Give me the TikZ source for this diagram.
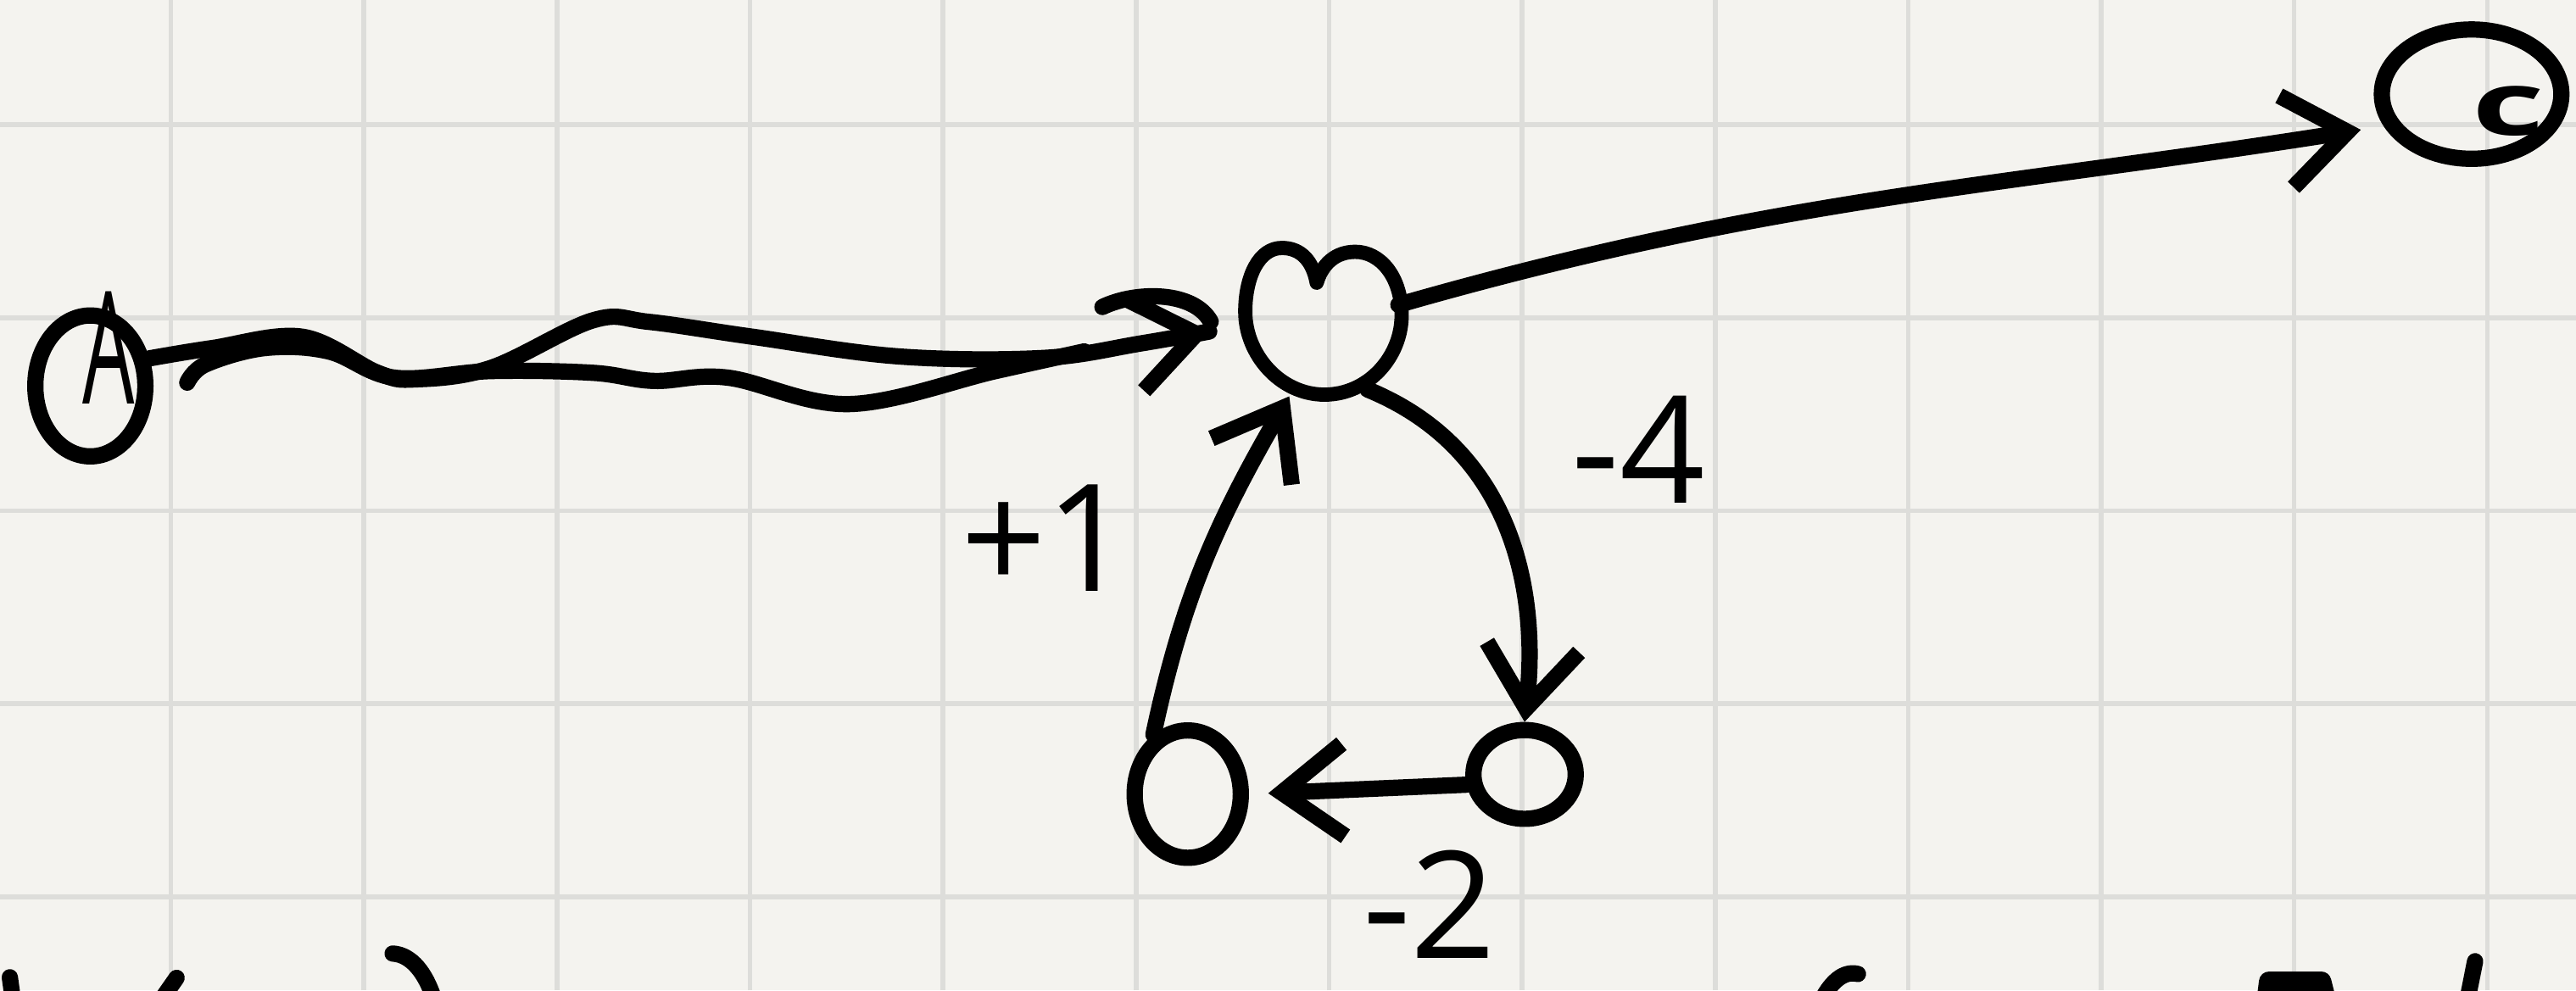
\documentclass[tikz,border=0pt]{standalone}
\usepackage{fontspec}
\setmainfont{Open Sans}
\usepackage{graphicx}
\usepackage{tikz}
\usetikzlibrary{arrows.meta,shapes.geometric}
\definecolor{paper}{HTML}{F4F3EF}
\definecolor{gridline}{HTML}{DDDDDA}

\begin{document}
\begin{tikzpicture}[
  ink/.style={line width=2.4pt,line cap=round,line join=round},
  vx/.style={ellipse,draw,ink,inner sep=0pt},
  ar/.style={ink,-{Straight Barb[length=3.2mm,width=4.8mm]}},
  wt/.style={font=\fontsize{22}{22}\selectfont,inner sep=0pt}]

\useasboundingbox (-0.885,-0.485) rectangle (12.46,4.647);
\clip (-0.885,-0.485) rectangle (12.46,4.647);
\fill[paper] (-0.885,-0.485) rectangle (12.46,4.647);
\draw[gridline,line width=0.7pt] (-0.885,-0.485) grid (12.46,4.647);

% vertices
\node[vx,minimum width=.57cm,minimum height=.73cm] (A) at (-0.417,2.647) {};
\node[wt] (Atxt) at (-0.323,2.843) {\scalebox{.55}[1.05]{A}};
\node[circle,inner sep=0pt,minimum size=.8cm] (M) at (5.966,2.962) {};
\node[vx,minimum width=.93cm,minimum height=.67cm] (C) at (11.919,4.159) {};
\node[wt,font=\fontsize{13}{13}\selectfont\bfseries] (Ctxt) at (12.11,4.07) {\scalebox{1.6}[1]{c}};
\node[vx,minimum width=.55cm,minimum height=.66cm] (BL) at (5.268,0.532) {};
\node[vx,minimum width=.53cm,minimum height=.46cm] (BR) at (7.013,0.634) {};

% heart shaped middle vertex
\begin{scope}[shift={(M.center)}]
\draw[ink,line width=2.1pt] (-0.03,0.22) .. controls (-0.05,0.33) and (-0.11,0.40) .. (-0.21,0.40)
  .. controls (-0.33,0.40) and (-0.40,0.25) .. (-0.40,0.07)
  .. controls (-0.40,-0.15) and (-0.22,-0.36) .. (0.01,-0.36)
  .. controls (0.24,-0.36) and (0.41,-0.16) .. (0.41,0.05)
  .. controls (0.41,0.25) and (0.30,0.38) .. (0.17,0.38)
  .. controls (0.07,0.38) and (0.0,0.32) .. (-0.03,0.22);
\end{scope}

% edges
\draw[ar,shorten >=1.8mm] plot[smooth,tension=.6] coordinates {(A.25) (0.213,2.843) (0.681,2.902) (1.072,2.715) (1.268,2.681) (1.66,2.741) (2.187,2.987) (2.477,2.979) (3.013,2.902) (3.77,2.8) (4.519,2.792) (5.03,2.868) (M.west)};
\draw[ink] plot[smooth,tension=.6] coordinates {(0.085,2.664) (0.179,2.758) (0.485,2.843) (0.817,2.826) (1.158,2.69) (1.66,2.724) (2.187,2.715) (2.502,2.673) (2.885,2.69) (3.515,2.553) (4.272,2.724) (4.732,2.826)};
\draw[ink] (4.826,3.056) .. controls (5.0,3.14) and (5.3,3.14) .. (5.387,2.98);
\draw[ar,shorten >=1.2mm] (M.15) to[out=16,in=189] (C.200);
\draw[ar] (M.305) .. controls (7.0,2.3) and (7.08,1.5) .. (BR.north);
\draw[ar,shorten >=1mm] (BR.190) -- (BL.east);
\draw[ar] (BL.120) to[out=78,in=240] (M.245);

% weights
\node[wt] (w1) at (4.535,1.858) {+1};
\node[wt] (w4) at (7.602,2.319) {-4};
\node[wt] (w2) at (6.52,-0.04) {-2};

% cut off writing along the bottom edge
\draw[ink] (-0.834,-0.417) -- (-0.82,-0.52);
\draw[ink] (0.03,-0.42) -- (-0.04,-0.52);
\draw[ink] (1.149,-0.294) .. controls (1.25,-0.3) and (1.32,-0.4) .. (1.36,-0.52);
\draw[ink] (8.74,-0.40) .. controls (8.66,-0.38) and (8.6,-0.45) .. (8.56,-0.52);
\draw[ink,line width=3pt] (10.86,-0.52) -- (10.87,-0.44) -- (11.14,-0.44) -- (11.16,-0.52);
\draw[ink] (11.937,-0.334) -- (11.9,-0.52);
\end{tikzpicture}
\end{document}
